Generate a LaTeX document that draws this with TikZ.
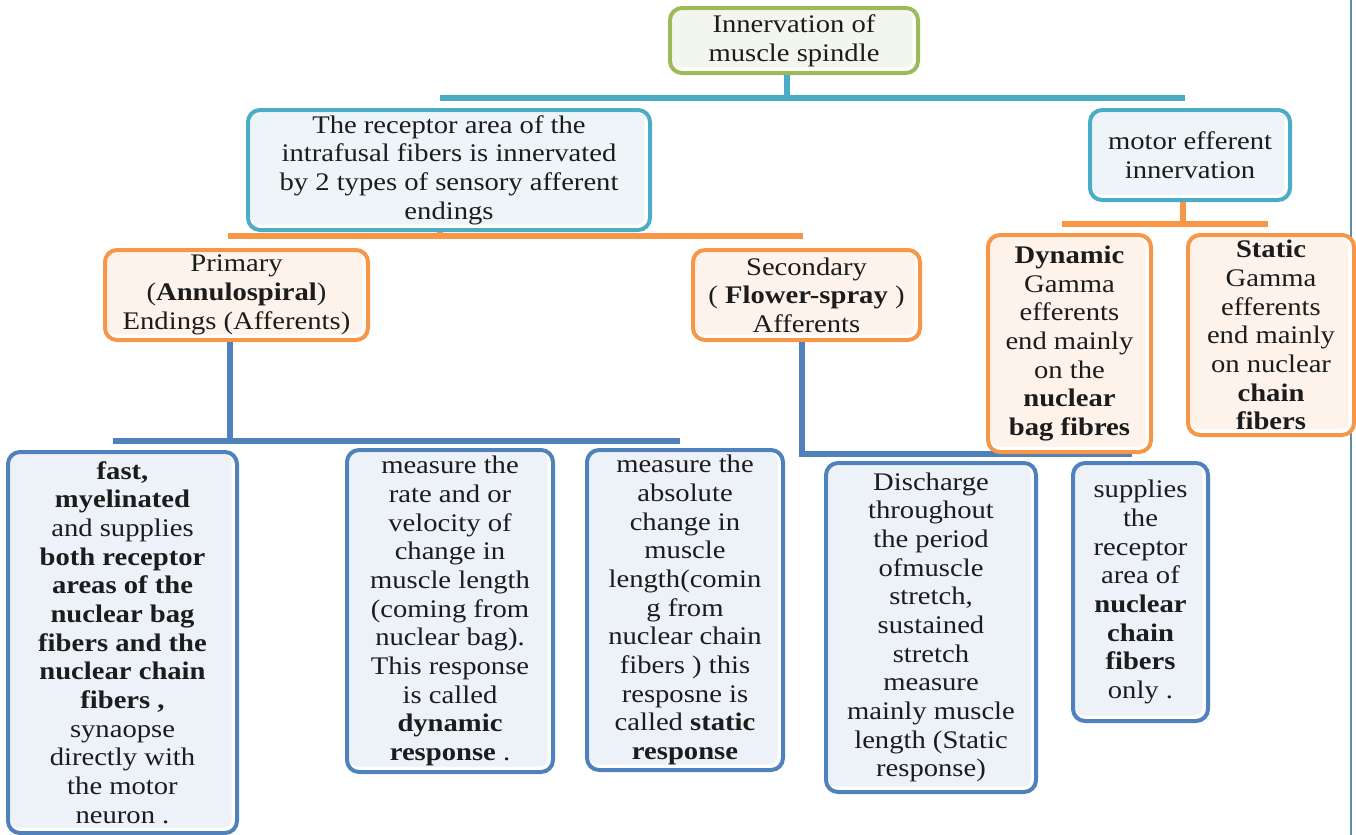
\documentclass[tikz,border=0pt]{standalone}
\usepackage{fontspec}
\setmainfont[FakeStretch=1.13]{Liberation Serif}
\definecolor{cteal}{HTML}{4BACC6}
\definecolor{corange}{HTML}{F79646}
\definecolor{cblue}{HTML}{4F81BD}
\definecolor{cgreen}{HTML}{9BBB59}
\definecolor{fteal}{HTML}{EDF5F9}
\definecolor{forange}{HTML}{FDF3EA}
\definecolor{fblue}{HTML}{EDF1F8}
\definecolor{fgreen}{HTML}{F3F6EE}
\definecolor{txt}{HTML}{1C1C1C}
\definecolor{edge}{HTML}{5B8DA8}
\tikzset{
  box/.style 2 args={draw=#1, fill=white, line width=3pt, rounded corners=9pt,
    align=center, inner sep=0pt, text=txt, font=\fontsize{19}{21.5}\selectfont,
    path picture={\fill[#2, rounded corners=6pt]
      ([shift={(2pt,-2pt)}]path picture bounding box.north west) rectangle
      ([shift={(-4pt,4pt)}]path picture bounding box.south east);}},
  conn/.style={draw=#1, line width=4.5pt},
}
\begin{document}
\begin{tikzpicture}[x=0.75pt,y=-0.75pt]
\useasboundingbox (0,0) rectangle (1356,835);
\fill[white] (0,0) rectangle (1356,835);
\coordinate (rt) at (1351,0);
\coordinate (rb) at (1351,835);
\draw[edge, line width=1.2pt] (rt) -- (rb);
% junction coordinates
\coordinate (tj) at (787,98);
\coordinate (tl) at (440,98);
\coordinate (tr) at (1185,98);
\coordinate (oj) at (440,236);
\coordinate (ol) at (228,236);
\coordinate (or) at (803,236);
\coordinate (mj) at (1183,224);
\coordinate (ml) at (1062,224);
\coordinate (mr) at (1268,224);
\coordinate (pj) at (230,441);
\coordinate (pl) at (113,441);
\coordinate (pr) at (680,441);
\coordinate (sj) at (802,454);
\coordinate (sr) at (1132,454);
% nodes
\node[box={cgreen}{fgreen}, minimum width=186pt, minimum height=48.75pt] (root) at (794,40.5)
  {Innervation of\\muscle spindle};
\node[box={cteal}{fteal}, minimum width=301.5pt, minimum height=90pt] (receptor) at (449,170)
  {The receptor area of the\\intrafusal fibers is innervated\\by 2 types of sensory afferent\\endings};
\node[box={cteal}{fteal}, minimum width=150pt, minimum height=67.5pt] (motor) at (1190,155)
  {motor efferent\\innervation};
% connectors
\draw[conn=cteal] (root.south -| tj) -- (tj);
\draw[conn=cteal] (tl) -- (tr);
\draw[conn=corange] (receptor.south -| oj) -- (oj);
\draw[conn=corange] (ol) -- (or);
\draw[conn=corange] (motor.south -| mj) -- (mj);
\draw[conn=corange] (ml) -- (mr);
\node[box={corange}{forange}, minimum width=197.25pt, minimum height=67.5pt] (primary) at (236.5,295)
  {Primary\\(\textbf{Annulospiral})\\Endings (Afferents)};
\node[box={corange}{forange}, minimum width=170.25pt, minimum height=67.5pt] (secondary) at (806.5,295)
  {Secondary\\( \textbf{Flower-spray} )\\Afferents};
\draw[conn=cblue] (primary.south -| pj) -- (pj);
\draw[conn=cblue] (pl) -- (pr);
\draw[conn=cblue] (secondary.south -| sj) -- (sj) -- (sr);
\node[box={corange}{forange}, minimum width=122.25pt, minimum height=162.75pt] (dynamic) at (1069.5,343.5)
  {\textbf{Dynamic}\\Gamma\\efferents\\end mainly\\on the\\\textbf{nuclear}\\\textbf{bag fibres}};
\node[box={corange}{forange}, minimum width=124.5pt, minimum height=150pt] (static) at (1271,335)
  {\textbf{Static}\\Gamma\\efferents\\end mainly\\on nuclear\\\textbf{chain}\\\textbf{fibers}};
\node[box={cblue}{fblue}, minimum width=171.75pt, minimum height=285.75pt] (fast) at (122.5,642.5)
  {\textbf{fast,}\\\textbf{myelinated}\\and supplies\\\textbf{both receptor}\\\textbf{areas of the}\\\textbf{nuclear bag}\\\textbf{fibers and the}\\\textbf{nuclear chain}\\\textbf{fibers ,}\\synaopse\\directly with\\the motor\\neuron .};
\node[box={cblue}{fblue}, minimum width=154.5pt, minimum height=241.5pt] (rate) at (450,611)
  {measure the\\rate and or\\velocity of\\change in\\muscle length\\(coming from\\nuclear bag).\\This response\\is called\\\textbf{dynamic}\\\textbf{response} .};
\node[box={cblue}{fblue}, minimum width=147pt, minimum height=240pt] (absolute) at (685,610)
  {measure the\\absolute\\change in\\muscle\\length(comin\\g from\\nuclear chain\\fibers ) this\\resposne is\\called \textbf{static}\\\textbf{response}};
\node[box={cblue}{fblue}, minimum width=157.5pt, minimum height=246.75pt] (discharge) at (931,627.5)
  {Discharge\\throughout\\the period\\ofmuscle\\stretch,\\sustained\\stretch\\measure\\mainly muscle\\length (Static\\response)};
\node[box={cblue}{fblue}, minimum width=101.25pt, minimum height=193.5pt] (supplies) at (1140.5,592)
  {supplies\\the\\receptor\\area of\\\textbf{nuclear}\\\textbf{chain}\\\textbf{fibers}\\only .};
\end{tikzpicture}
\end{document}
